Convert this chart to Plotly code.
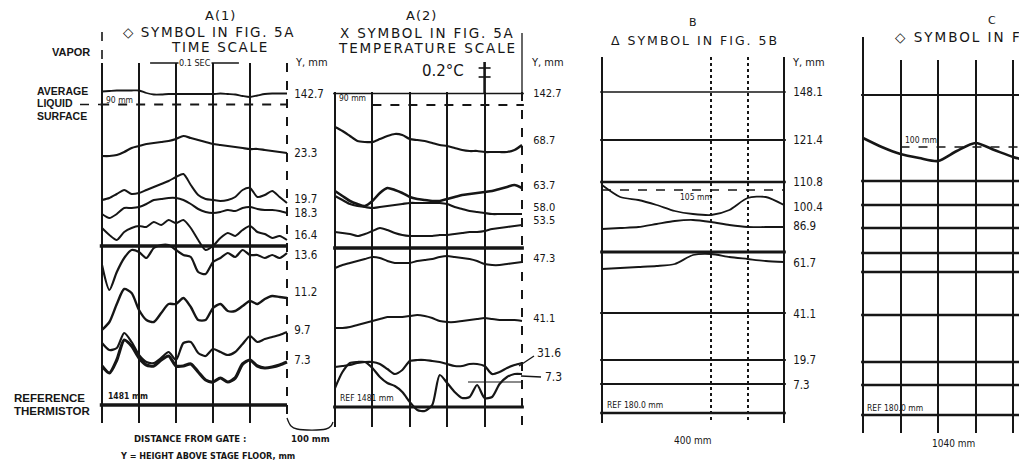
import plotly.graph_objects as go

W, H = 1019, 463
INK = "#161616"
NARROW = "Liberation Sans Narrow, DejaVu Sans Condensed, Arial Narrow, Liberation Sans, sans-serif"
WIDE = "DejaVu Sans, Verdana, sans-serif"
BOLD = "Liberation Sans, Arial, sans-serif"

# ---------------- DATA ----------------
# x = grid divisions along each record; y = vertical position of the record on the sheet (rows from top)

# Panel A(1) : time scale
a1_u = [0.0, 0.2, 0.4, 0.6, 0.8, 1.0, 1.2, 1.4, 1.6, 1.8, 2.0, 2.2, 2.4,
        2.6, 2.8, 3.0, 3.2, 3.4, 3.6, 3.8, 4.0, 4.2, 4.4, 4.6, 4.8, 5.0]
a1_y142_7 = [91.5, 91, 90.5, 90.5, 90.5, 90.5, 93, 94.5, 94.5, 94, 94, 94, 94,
             94, 94, 94, 93.5, 94, 94.5, 96, 97, 95.5, 94, 93.5, 93.5, 93.5]
a1_y23_3 = [156, 156, 155, 152, 148, 146, 144, 143, 142, 141, 139, 136, 138,
            140, 142, 144, 145, 146, 147, 148, 149, 149, 150, 151, 152, 153]
a1_y19_7 = [200, 198, 194, 190, 194, 193, 190, 187, 184, 181, 177, 174, 185,
            195, 199, 200, 201, 200, 197, 190, 188, 197, 195, 191, 197, 203]
a1_y18_3 = [214, 218, 214, 208, 208, 207, 204, 200, 199, 198, 198, 200, 204,
            209, 212, 213, 212, 210, 211, 208, 207, 209, 210, 210, 211, 213]
a1_y16_4 = [228, 235, 240, 232, 228, 226, 227, 222, 225, 220, 223, 220, 228,
            240, 250, 246, 238, 233, 236, 230, 226, 232, 234, 238, 236, 240]
a1_y13_6 = [265, 290, 272, 258, 250, 252, 258, 248, 245, 245, 250, 255, 257,
            272, 274, 262, 258, 253, 257, 250, 255, 255, 258, 255, 258, 253]
a1_y11_2 = [330, 322, 304, 289, 293, 310, 320, 322, 313, 304, 304, 298, 307,
            320, 320, 308, 304, 311, 311, 306, 301, 304, 299, 296, 297, 298]
a1_y9_7 = [343, 350, 348, 333, 342, 355, 362, 363, 358, 352, 360, 343, 342,
           353, 356, 349, 352, 355, 352, 344, 336, 342, 339, 337, 335, 332]
a1_y7_3 = [366, 373, 360, 340, 346, 358, 365, 366, 360, 356, 366, 366, 364,
           372, 380, 382, 378, 382, 378, 364, 360, 366, 368, 367, 365, 362]
a1_labels = ["142.7", "23.3", "19.7", "18.3", "16.4", "13.6", "11.2", "9.7", "7.3"]
a1_label_pos = [94, 153, 199, 212.5, 235, 255, 292, 330, 360]
a1_levels = [246, 405]          # divider, reference thermistor
a1_surface = [104.5]            # average liquid surface (dashed)
a1_grid = [0, 1, 2, 3, 4]
a1_grid_dashed = [5]

# Panel A(2) : temperature scale
a2_u = a1_u
a2_y68_7 = [127, 131, 136, 141, 142, 142, 139, 136, 134, 135, 139, 140, 141,
            143, 145, 146, 148, 150, 151, 151, 152, 152, 152, 152, 150, 145]
a2_y63_7 = [191, 196, 201, 204, 206, 201, 193, 188, 190, 193, 197, 199, 200,
            201, 201, 199, 197, 195, 194, 193, 192, 191, 189, 187, 185, 188]
a2_y58_0 = [196, 200, 204, 206, 207, 208, 207, 206, 205, 204, 203, 203, 203,
            203, 203, 204, 207, 209, 211, 212, 213, 214, 214, 214, 214, 214]
a2_y53_5 = [232, 233, 234, 236, 234, 231, 228, 230, 233, 235, 236, 236, 236,
            236, 235, 235, 234, 233, 232, 232, 231, 229, 228, 227, 226, 225]
a2_y47_3 = [268, 265, 263, 261, 259, 257, 258, 261, 263, 263, 263, 261, 260,
            259, 257, 256, 257, 258, 259, 261, 264, 265, 265, 264, 263, 262]
a2_y41_1 = [328, 328, 327, 325, 323, 321, 319, 317, 317, 317, 316, 315, 316,
            318, 321, 322, 322, 321, 320, 319, 318, 319, 320, 320, 320, 321]
a2_y31_6 = [367, 366, 365, 363, 362, 362, 364, 369, 374, 370, 361, 360, 360,
            361, 362, 364, 366, 366, 364, 364, 366, 374, 372, 368, 365, 363]
a2_y7_3 = [388, 372, 363, 362, 362, 368, 377, 383, 386, 392, 402, 410, 411,
           405, 375, 383, 392, 398, 397, 385, 398, 397, 384, 377, 374, 374]
a2_labels = ["142.7", "68.7", "63.7", "58.0", "53.5", "47.3", "41.1"]
a2_label_pos = [93, 140, 185, 207.5, 220.5, 258, 318]
a2_levels = [93.5, 248, 407]    # 142.7 record, divider, reference
a2_surface = [105]
a2_grid = [0, 1, 2, 3, 4]
a2_grid_dashed = [5]

# Panel B
b_u = [0.0, 0.5, 1.0, 1.5, 2.0, 2.5, 3.0, 3.5, 4.0, 4.5, 5.0]
b_y100_4 = [185, 197, 200, 205, 211, 214, 215, 210, 198, 197, 205]
b_y86_9 = [229, 228, 227, 224, 221, 220, 222, 225, 227, 227, 227]
b_y61_7 = [269, 268, 267, 266, 264, 255, 254, 257, 259, 261, 262]
b_levels = [92, 140, 182, 252, 313, 360, 384, 413]
b_level_widths = [1.3, 2, 2.6, 3, 2, 2, 2.2, 2.6]
b_surface = [190]
b_labels = ["148.1", "121.4", "110.8", "100.4", "86.9", "61.7", "41.1", "19.7", "7.3"]
b_label_pos = [92, 140, 182, 207, 226, 263, 314, 360, 385]
b_grid = [0, 5]
b_grid_dotted = [3, 4]

# Panel C
c_u = [0.0, 0.5, 1.0, 1.5, 2.0, 2.5, 3.0, 3.5, 4.0, 4.2]
c_y_top = [138, 147, 154, 158, 161, 151, 143, 150, 157, 159]
c_levels = [95, 181, 205, 228, 253, 272, 315, 362, 385, 415]
c_surface = [147]
c_grid = [0, 1, 2, 3, 4]

# ---------------- LAYOUT GEOMETRY ----------------
panels = {
    "A1": dict(x0=102, ppu=37.0, xr=[-0.06, 5.06], top=63, bot=423),
    "A2": dict(x0=335, ppu=37.4, xr=[-0.06, 5.06], top=92, bot=427),
    "B": dict(x0=602, ppu=36.4, xr=[-0.06, 5.06], top=57, bot=423),
    "C": dict(x0=863, ppu=37.5, xr=[-0.06, (W - 863) / 37.5], top=60, bot=433),
}
axis_ids = {"A1": "", "A2": "2", "B": "3", "C": "4"}

fig = go.Figure()


def line_style(width, dash="solid"):
    return dict(color=INK, width=width, dash=dash, shape="spline", smoothing=0.7)


def add_records(panel, u, series, widths):
    k = axis_ids[panel]
    for ys, w in zip(series, widths):
        fig.add_trace(go.Scatter(x=u, y=ys, mode="lines", line=line_style(w),
                                 xaxis="x" + k, yaxis="y" + k,
                                 hoverinfo="skip", showlegend=False))


def add_levels(panel, levels, widths, x_from, x_to, dash="solid"):
    k = axis_ids[panel]
    for lv, w in zip(levels, widths):
        fig.add_trace(go.Scatter(x=[x_from, x_to], y=[lv, lv], mode="lines",
                                 line=dict(color=INK, width=w, dash=dash),
                                 xaxis="x" + k, yaxis="y" + k,
                                 hoverinfo="skip", showlegend=False))


# A(1)
add_records("A1", a1_u,
            [a1_y142_7, a1_y23_3, a1_y19_7, a1_y18_3, a1_y16_4,
             a1_y13_6, a1_y11_2, a1_y9_7, a1_y7_3],
            [1.8, 2.2, 2, 2, 2, 2.2, 2.4, 2.2, 3.2])
add_levels("A1", a1_levels, [3.5, 3.5], -0.1, 5.0)
add_levels("A1", a1_surface, [1.8], -0.05, 5.0, dash="dash")

# A(2)
add_records("A2", a2_u,
            [a2_y68_7, a2_y63_7, a2_y58_0, a2_y53_5, a2_y47_3,
             a2_y41_1, a2_y31_6, a2_y7_3],
            [2.2, 2.6, 2.2, 2, 2, 2, 2.2, 2.2])
add_levels("A2", a2_levels, [1.6, 3.5, 3.2], -0.05, 5.05)
add_levels("A2", a2_surface, [1.8], 1.0, 5.05, dash="dash")

# B
add_records("B", b_u, [b_y100_4, b_y86_9, b_y61_7], [1.8, 1.8, 1.8])
add_levels("B", b_levels, b_level_widths, -0.05, 5.05)
add_levels("B", b_surface, [1.5], 0.0, 5.0, dash="dash")

# C
add_records("C", c_u, [c_y_top], [2.6])
add_levels("C", c_levels, [2] + [2.4] * 9, -0.05, 4.2)
add_levels("C", c_surface, [1.3], 1.0, 4.2, dash="dash")

# ---- page-level decoration axis (pixel units) ----
def deco(xs, ys, width=1.5, dash="solid", shape="linear"):
    fig.add_trace(go.Scatter(x=xs, y=ys, mode="lines",
                             line=dict(color=INK, width=width, dash=dash, shape=shape),
                             xaxis="x5", yaxis="y5", hoverinfo="skip", showlegend=False))


def px(panel, u):
    p = panels[panel]
    return p["x0"] + p["ppu"] * u


deco([px("A1", 0)] * 2, [32, 63], width=1.6, dash="dash")            # vapor extension
deco([80, 100], [104.5, 104.5], width=1.6, dash="dash")              # liquid surface marker
deco([px("A1", 1.3), px("A1", 3.7)], [63, 63], width=1.4)            # 0.1 sec bar
deco([px("A2", 4)] * 2, [62, 93], width=2.6)                         # temperature bar
deco([px("A2", 4) - 6, px("A2", 4) + 6], [68, 68], width=1.6)
deco([px("A2", 4) - 6, px("A2", 4) + 6], [77, 77], width=1.6)
deco([px("A2", 5)] * 2, [33, 93], width=1.3)
deco([519, 534], [366, 356], width=1.3)                              # 31.6 leader
deco([521, 541], [376, 377], width=1.3)                              # 7.3 leader
deco([468, 522], [382, 382], width=1.0)
deco([287, 291, 297, 326, 331, 333], [418, 426, 429, 429, 426, 422], width=1.3, shape="spline")
deco([px("C", 0)] * 2, [37, 60], width=2)

# ---------------- AXES ----------------
layout_axes = {}
for name, p in panels.items():
    k = axis_ids[name]
    xd = [(p["x0"] + p["ppu"] * p["xr"][0]) / W, min(1.0, (p["x0"] + p["ppu"] * p["xr"][1]) / W)]
    yd = [1 - p["bot"] / H, 1 - p["top"] / H]
    layout_axes["xaxis" + k] = dict(domain=xd, range=p["xr"], anchor="y" + k,
                                    showticklabels=False, ticks="", zeroline=False,
                                    showline=False, showgrid=True, gridcolor=INK,
                                    gridwidth=2.3, tickmode="array", fixedrange=True,
                                    automargin=False)
    layout_axes["yaxis" + k] = dict(domain=yd, range=[p["bot"], p["top"]], anchor="x" + k,
                                    side="right", showgrid=False, zeroline=False,
                                    showline=False, ticks="", fixedrange=True,
                                    tickmode="array", tickvals=[], showticklabels=True,
                                    tickfont=dict(family=NARROW, size=11.5, color=INK),
                                    ticklabelstandoff=4, automargin=False)

layout_axes["xaxis"].update(tickvals=a1_grid,
                            minor=dict(tickmode="array", tickvals=a1_grid_dashed, showgrid=True,
                                       gridcolor=INK, gridwidth=2, griddash="dash"))
layout_axes["yaxis"].update(tickvals=a1_label_pos, ticktext=a1_labels)
layout_axes["xaxis2"].update(tickvals=a2_grid,
                             minor=dict(tickmode="array", tickvals=a2_grid_dashed, showgrid=True,
                                        gridcolor=INK, gridwidth=1.6, griddash="dash"))
layout_axes["yaxis2"].update(tickvals=a2_label_pos, ticktext=a2_labels, ticklabelstandoff=8,
                             tickfont=dict(family=NARROW, size=11, color=INK))
layout_axes["xaxis3"].update(tickvals=b_grid, gridwidth=1.8,
                             minor=dict(tickmode="array", tickvals=b_grid_dotted, showgrid=True,
                                        gridcolor=INK, gridwidth=1.6, griddash="dot"))
layout_axes["yaxis3"].update(tickvals=b_label_pos, ticktext=b_labels, ticklabelstandoff=6,
                             tickfont=dict(family=NARROW, size=11.5, color=INK))
layout_axes["xaxis4"].update(tickvals=c_grid, gridwidth=2.2)
layout_axes["yaxis4"].update(showticklabels=False)
layout_axes["xaxis5"] = dict(domain=[0, 1], range=[0, W], anchor="y5", visible=False,
                             fixedrange=True, automargin=False)
layout_axes["yaxis5"] = dict(domain=[0, 1], range=[H, 0], anchor="x5", visible=False,
                             fixedrange=True, automargin=False)

# ---------------- TEXT ----------------
ann = []


def note(x, y, text, size=11, family=WIDE, xanchor="center", bg=None, spacing=None):
    if spacing:
        text = '<span style="letter-spacing:%spx">%s</span>' % (spacing, text)
    d = dict(x=x, y=y, xref="x5", yref="y5", text=text, showarrow=False,
             xanchor=xanchor, yanchor="middle",
             font=dict(family=family, size=size, color=INK))
    if bg:
        d["bgcolor"] = bg
        d["borderpad"] = 0
    ann.append(d)


# A(1)
note(220, 15, "A(1)", 13, spacing=1)
note(209, 32, "◇ SYMBOL IN FIG. 5A", 13.5, spacing=1.6)
note(220, 47, "TIME SCALE", 13.5, spacing=1.7)
note(195, 63, "0.1 SEC", 9, NARROW, bg="white")
note(311, 62, "Y, mm", 11, NARROW)
note(71, 52, "<b>VAPOR</b>", 11, BOLD)
note(35, 91, "<b>AVERAGE</b>", 10.5, BOLD, "left")
note(35, 103, "<b>LIQUID</b>", 10.5, BOLD, "left")
note(35, 116, "<b>SURFACE</b>", 10.5, BOLD, "left")
note(12, 398, "<b>REFERENCE</b>", 11.5, BOLD, "left")
note(12, 411, "<b>THERMISTOR</b>", 11.5, BOLD, "left")
note(104, 100, "90 mm", 8.5, NARROW, "left")
note(106, 396, "<b>1481 mm</b>", 8.5, NARROW, "left")
note(190, 438, "<b>DISTANCE FROM GATE :</b>", 9.5, NARROW)
note(310, 438, "<b>100 mm</b>", 9.5, NARROW)
note(207, 456, "<b>Y = HEIGHT ABOVE STAGE FLOOR, mm</b>", 9, NARROW)
# A(2)
note(421, 15, "A(2)", 13, spacing=1)
note(427, 33, "X SYMBOL IN FIG. 5A", 13.5, spacing=1.8)
note(427, 48, "TEMPERATURE SCALE", 13.5, spacing=1.9)
note(443, 71, "0.2°C", 15)
note(547, 62, "Y, mm", 11, NARROW)
note(337, 98, "90 mm", 8.5, NARROW, "left")
note(338, 398, "REF 1481 mm", 8.5, NARROW, "left")
note(535, 353, "31.6", 12, NARROW, "left")
note(543, 377, "7.3", 12, NARROW, "left")
# B
note(693, 22, "B", 11)
note(695, 40, "Δ SYMBOL IN FIG. 5B", 12.5, spacing=2)
note(808, 62, "Y, mm", 11, NARROW)
note(678, 197, "105 mm", 8.5, NARROW, "left")
note(605, 405, "REF 180.0 mm", 8.5, NARROW, "left")
note(693, 440, "400 mm", 10, NARROW)
# C
note(992, 20, "C", 11)
note(893, 37, "◇ SYMBOL IN FIG. 5B", 13.5, WIDE, "left", spacing=2)
note(903, 140, "100 mm", 8.5, NARROW, "left")
note(865, 408, "REF 180.0 mm", 8.5, NARROW, "left")
note(953, 443, "1040 mm", 10, NARROW)

fig.update_layout(
    template="none",
    width=W, height=H, autosize=False,
    margin=dict(l=0, r=0, t=0, b=0, pad=0, autoexpand=False),
    paper_bgcolor="white", plot_bgcolor="rgba(0,0,0,0)",
    showlegend=False, annotations=ann,
    font=dict(family=WIDE, color=INK),
    **layout_axes,
)

fig.write_html("out.html", config={"displayModeBar": False},
               post_script="document.body.style.margin='0';document.body.style.overflow='hidden';")
